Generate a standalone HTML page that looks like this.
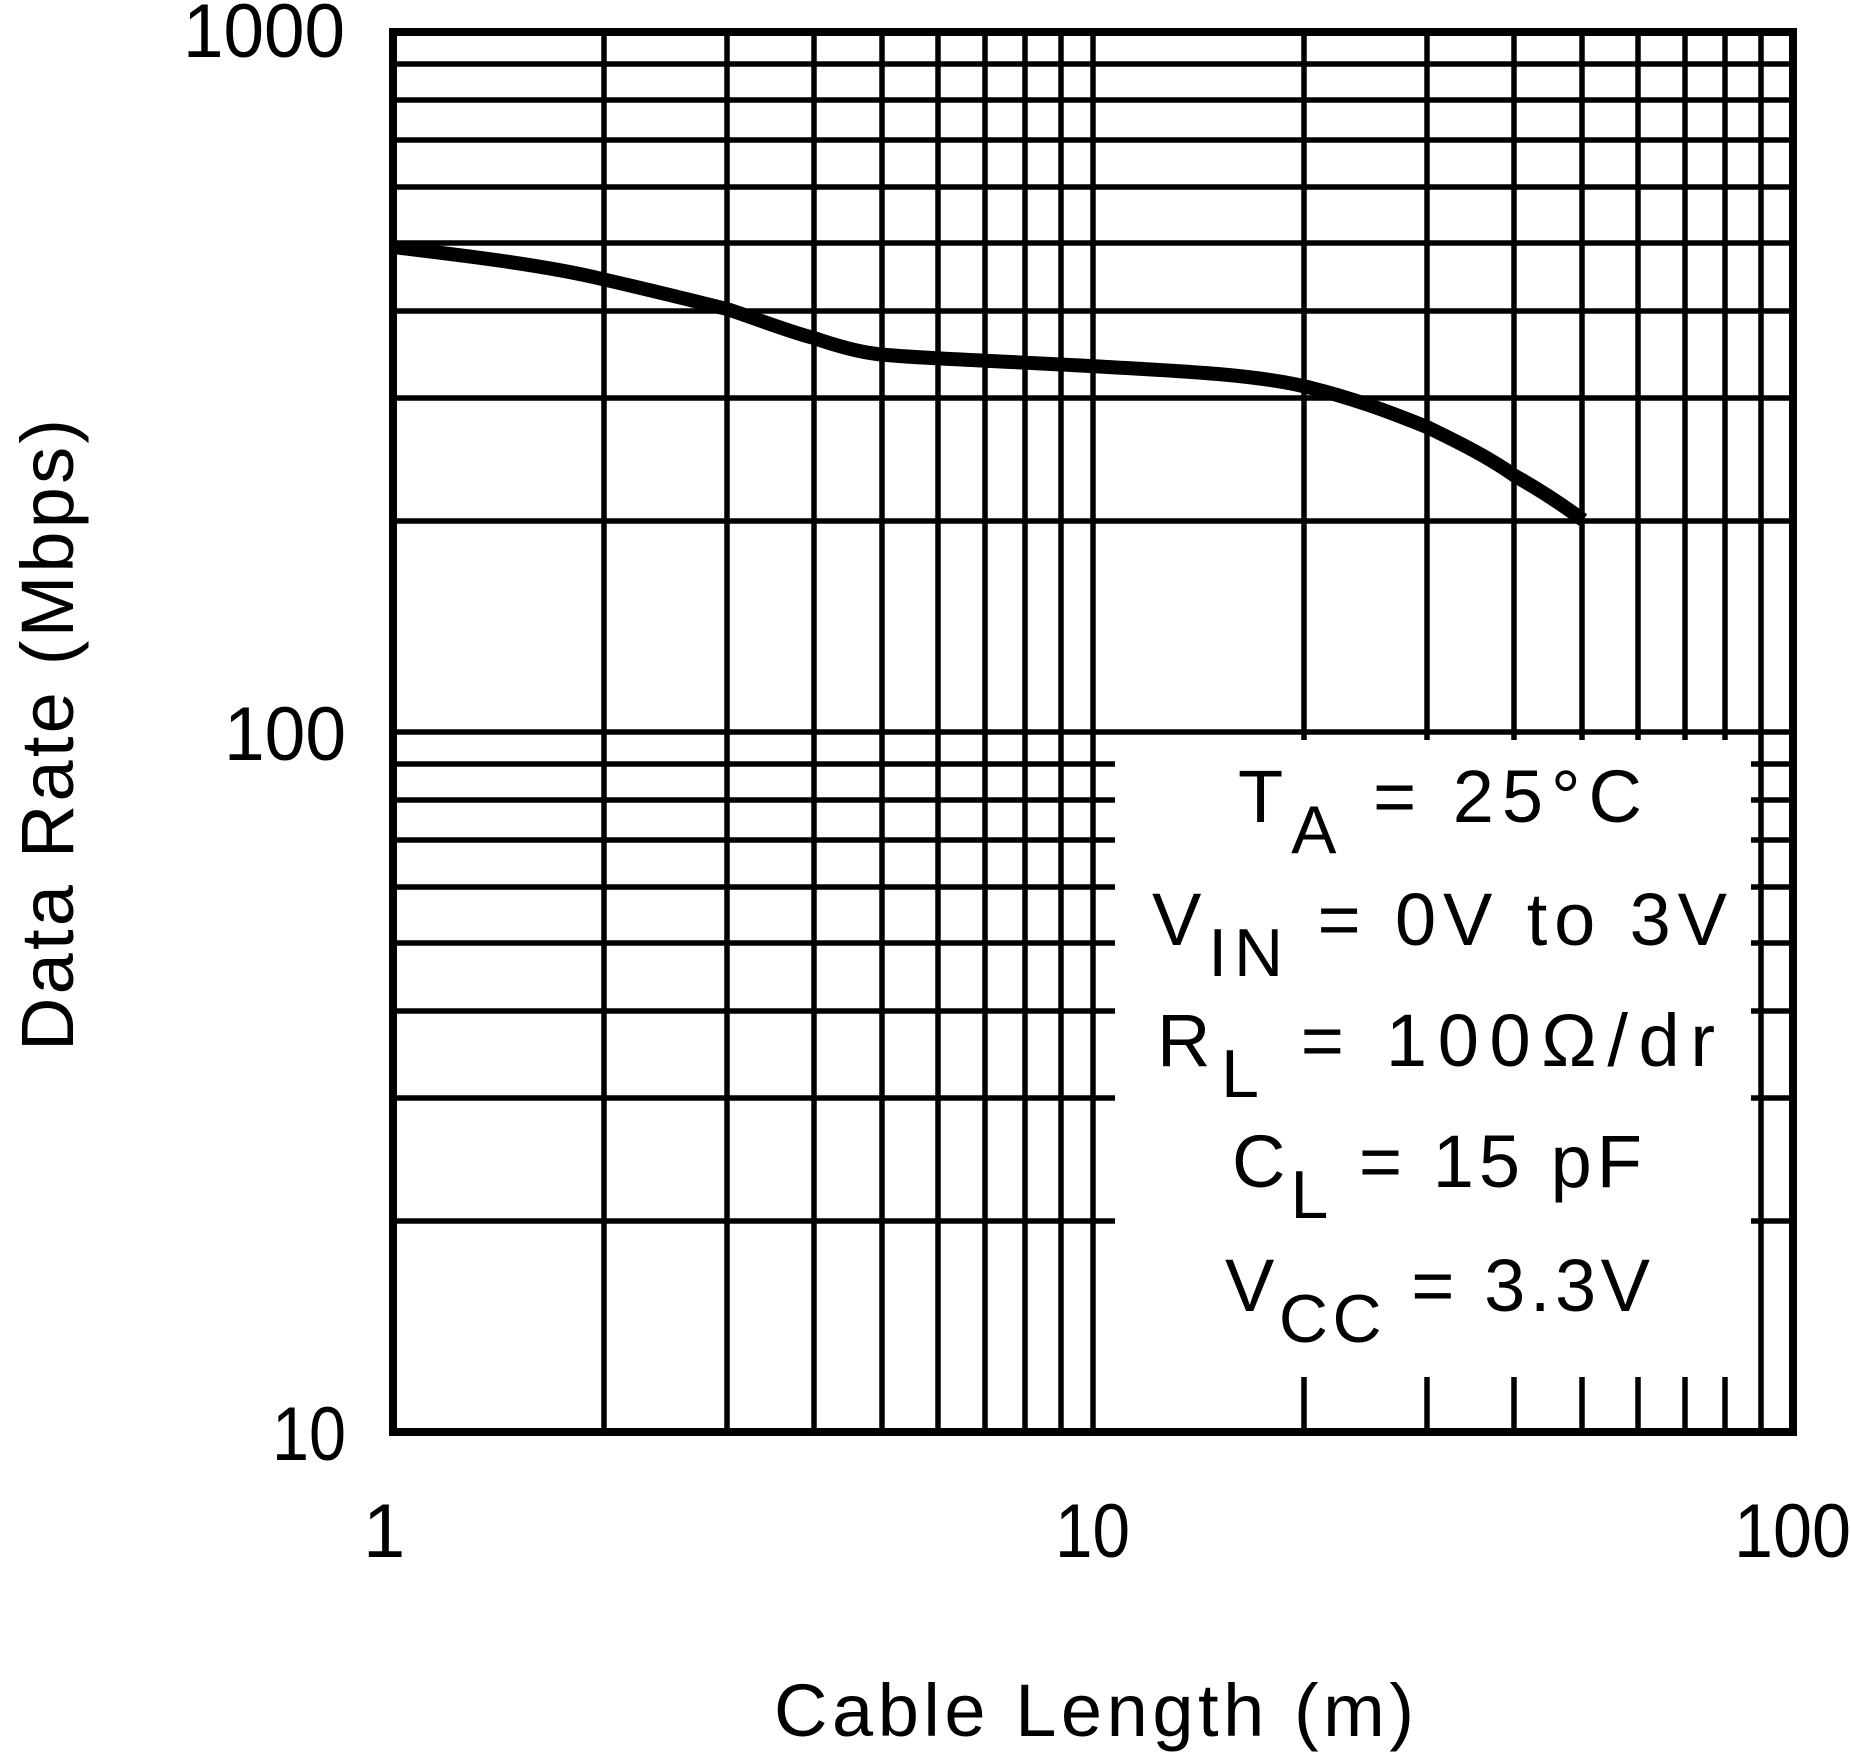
<!DOCTYPE html>
<html><head><meta charset="utf-8"><style>html,body{margin:0;padding:0;background:#fff}svg{display:block}</style></head>
<body>
<svg width="1851" height="1757" viewBox="0 0 1851 1757" xmlns="http://www.w3.org/2000/svg" font-family="Liberation Sans, sans-serif" fill="#000">
<g stroke="#000" stroke-width="5.5" fill="none">
<line x1="393" x2="1793" y1="64" y2="64"/><line x1="393" x2="1793" y1="100" y2="100"/>
<line x1="393" x2="1793" y1="140" y2="140"/><line x1="393" x2="1793" y1="187" y2="187"/>
<line x1="393" x2="1793" y1="243" y2="243"/><line x1="393" x2="1793" y1="311" y2="311"/>
<line x1="393" x2="1793" y1="398" y2="398"/><line x1="393" x2="1793" y1="521" y2="521"/>
<line x1="393" x2="1793" y1="732" y2="732"/>
<g>
<line x1="393" x2="1115" y1="764" y2="764"/><line x1="1751" x2="1793" y1="764" y2="764"/>
<line x1="393" x2="1115" y1="800" y2="800"/><line x1="1751" x2="1793" y1="800" y2="800"/>
<line x1="393" x2="1115" y1="840" y2="840"/><line x1="1751" x2="1793" y1="840" y2="840"/>
<line x1="393" x2="1115" y1="887" y2="887"/><line x1="1751" x2="1793" y1="887" y2="887"/>
<line x1="393" x2="1115" y1="943" y2="943"/><line x1="1751" x2="1793" y1="943" y2="943"/>
<line x1="393" x2="1115" y1="1011" y2="1011"/><line x1="1751" x2="1793" y1="1011" y2="1011"/>
<line x1="393" x2="1115" y1="1098" y2="1098"/><line x1="1751" x2="1793" y1="1098" y2="1098"/>
<line x1="393" x2="1115" y1="1221" y2="1221"/><line x1="1751" x2="1793" y1="1221" y2="1221"/>
</g>
<line x1="604" x2="604" y1="32" y2="1432"/><line x1="727" x2="727" y1="32" y2="1432"/>
<line x1="814" x2="814" y1="32" y2="1432"/><line x1="882" x2="882" y1="32" y2="1432"/>
<line x1="938" x2="938" y1="32" y2="1432"/><line x1="985" x2="985" y1="32" y2="1432"/>
<line x1="1025" x2="1025" y1="32" y2="1432"/><line x1="1061" x2="1061" y1="32" y2="1432"/>
<line x1="1093" x2="1093" y1="32" y2="1432"/>
<line x1="1304" x2="1304" y1="32" y2="740"/><line x1="1304" x2="1304" y1="1377" y2="1432"/>
<line x1="1427" x2="1427" y1="32" y2="740"/><line x1="1427" x2="1427" y1="1377" y2="1432"/>
<line x1="1514" x2="1514" y1="32" y2="740"/><line x1="1514" x2="1514" y1="1377" y2="1432"/>
<line x1="1582" x2="1582" y1="32" y2="740"/><line x1="1582" x2="1582" y1="1377" y2="1432"/>
<line x1="1638" x2="1638" y1="32" y2="740"/><line x1="1638" x2="1638" y1="1377" y2="1432"/>
<line x1="1685" x2="1685" y1="32" y2="740"/><line x1="1685" x2="1685" y1="1377" y2="1432"/>
<line x1="1725" x2="1725" y1="32" y2="740"/><line x1="1725" x2="1725" y1="1377" y2="1432"/>
<line x1="1761" x2="1761" y1="32" y2="1432"/>
</g>
<rect x="393" y="32" width="1400" height="1400" fill="none" stroke="#000" stroke-width="8"/>
<path d="M393,247 C450,254 540,264 602,279 C650,290 690,300 727,309 C760,320 790,332 814,338 C840,347 860,352 877,354 C910,358 1000,361 1090,366 C1180,371 1250,374 1303,386 C1350,397 1390,412 1427,427 C1460,443 1490,458 1515,476 C1540,490 1560,503 1583,520" fill="none" stroke="#000" stroke-width="14"/>
<g font-size="76">
<text x="183" y="57" textLength="162" lengthAdjust="spacingAndGlyphs">1000</text>
<text x="224" y="760" textLength="122" lengthAdjust="spacingAndGlyphs">100</text>
<text x="272" y="1460" textLength="74" lengthAdjust="spacingAndGlyphs">10</text>
<text x="363" y="1557">1</text>
<text x="1055" y="1557" textLength="75" lengthAdjust="spacingAndGlyphs">10</text>
<text x="1734" y="1557" textLength="117" lengthAdjust="spacingAndGlyphs">100</text>
</g>
<text x="774" y="1736" font-size="74" textLength="640" lengthAdjust="spacing">Cable Length (m)</text>
<text transform="translate(73,1051) rotate(-90)" x="0" y="0" font-size="74" textLength="632" lengthAdjust="spacing">Data Rate (Mbps)</text>
<g font-size="74">
<text x="1238" y="822" textLength="404" lengthAdjust="spacing">T<tspan dy="31" font-size="68">A</tspan><tspan dy="-31"> = 25°C</tspan></text>
<text x="1152" y="945" textLength="575" lengthAdjust="spacing">V<tspan dy="31" font-size="68">IN</tspan><tspan dy="-31"> = 0V to 3V</tspan></text>
<text x="1157" y="1066" textLength="558" lengthAdjust="spacing">R<tspan dy="31" font-size="68">L</tspan><tspan dy="-31"> = 100Ω/dr</tspan></text>
<text x="1232" y="1187" textLength="410" lengthAdjust="spacing">C<tspan dy="31" font-size="68">L</tspan><tspan dy="-31"> = 15 pF</tspan></text>
<text x="1225" y="1311" textLength="425" lengthAdjust="spacing">V<tspan dy="31" font-size="68">CC</tspan><tspan dy="-31"> = 3.3V</tspan></text>
</g>
</svg>
</body></html>
